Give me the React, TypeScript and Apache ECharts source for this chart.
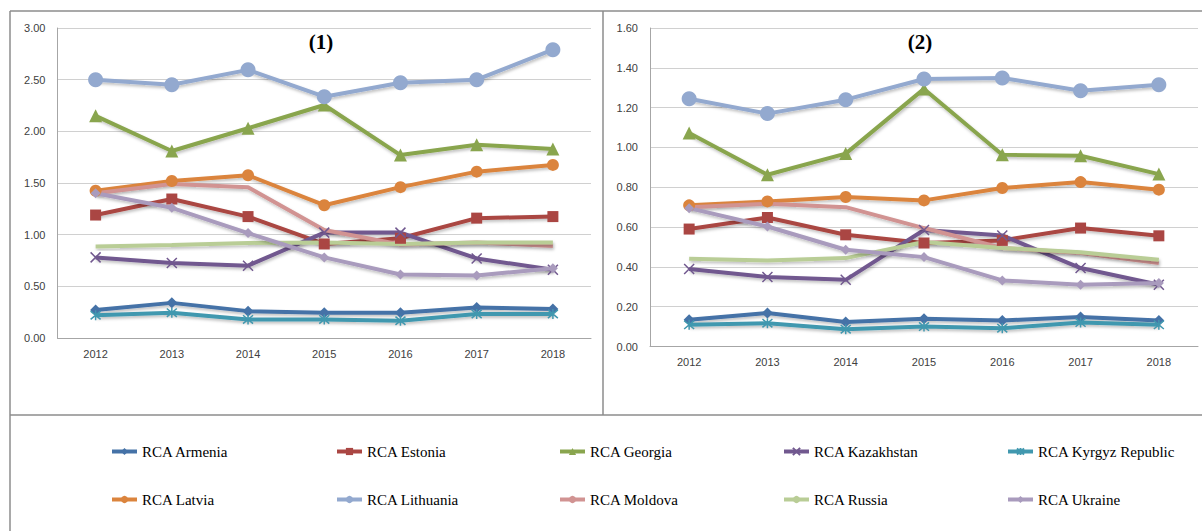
import React, { useEffect, useRef } from "react";
import * as echarts from "echarts";

const years = ["2012", "2013", "2014", "2015", "2016", "2017", "2018"];

const countries = [
  "RCA Armenia",
  "RCA Estonia",
  "RCA Georgia",
  "RCA Kazakhstan",
  "RCA Kyrgyz Republic",
  "RCA Latvia",
  "RCA Lithuania",
  "RCA Moldova",
  "RCA Russia",
  "RCA Ukraine",
];

// Panel (1)
const armenia1 = [0.27, 0.34, 0.26, 0.245, 0.245, 0.295, 0.28];
const estonia1 = [1.19, 1.345, 1.175, 0.91, 0.965, 1.16, 1.175];
const georgia1 = [2.15, 1.81, 2.03, 2.255, 1.77, 1.87, 1.83];
const kazakhstan1 = [0.78, 0.725, 0.70, 1.02, 1.02, 0.77, 0.66];
const kyrgyz1 = [0.22, 0.245, 0.18, 0.18, 0.167, 0.232, 0.232];
const latvia1 = [1.425, 1.52, 1.575, 1.285, 1.46, 1.61, 1.675];
const lithuania1 = [2.5, 2.45, 2.595, 2.335, 2.47, 2.5, 2.79];
const moldova1 = [1.4, 1.49, 1.46, 1.045, 0.905, 0.925, 0.89];
const russia1 = [0.885, 0.9, 0.92, 0.925, 0.91, 0.925, 0.925];
const ukraine1 = [1.4, 1.26, 1.015, 0.78, 0.615, 0.605, 0.675];

// Panel (2)
const armenia2 = [0.134, 0.168, 0.123, 0.139, 0.131, 0.148, 0.131];
const estonia2 = [0.59, 0.648, 0.561, 0.52, 0.533, 0.595, 0.556];
const georgia2 = [1.073, 0.863, 0.969, 1.294, 0.963, 0.958, 0.866];
const kazakhstan2 = [0.389, 0.349, 0.335, 0.585, 0.558, 0.394, 0.31];
const kyrgyz2 = [0.109, 0.117, 0.087, 0.1, 0.092, 0.12, 0.109];
const latvia2 = [0.709, 0.729, 0.751, 0.734, 0.796, 0.826, 0.788];
const lithuania2 = [1.245, 1.17, 1.24, 1.344, 1.349, 1.285, 1.315];
const moldova2 = [0.7, 0.717, 0.7, 0.595, 0.495, 0.47, 0.419];
const russia2 = [0.441, 0.432, 0.444, 0.525, 0.495, 0.473, 0.436];
const ukraine2 = [0.695, 0.603, 0.486, 0.449, 0.332, 0.31, 0.319];

const panel1 = [armenia1, estonia1, georgia1, kazakhstan1, kyrgyz1, latvia1, lithuania1, moldova1, russia1, ukraine1];
const panel2 = [armenia2, estonia2, georgia2, kazakhstan2, kyrgyz2, latvia2, lithuania2, moldova2, russia2, ukraine2];

const colors = [
  "#4572A7",
  "#AA4643",
  "#89A54E",
  "#71588F",
  "#4198AF",
  "#DB843D",
  "#93A9CF",
  "#D19392",
  "#B9CD96",
  "#A99BBD",
];

const crossPath = "path://M0,0 L10,10 M10,0 L0,10";
const asteriskPath = "path://M0,0 L10,10 M10,0 L0,10 M5,-1 L5,11";

const symbols: [string, number][] = [
  ["diamond", 11],
  ["rect", 11],
  ["triangle", 13],
  [crossPath, 10],
  [asteriskPath, 10],
  ["circle", 12],
  ["circle", 15],
  ["none", 0],
  ["none", 0],
  ["diamond", 10],
];

const axisFont = { fontFamily: "'Liberation Sans', Arial, sans-serif", fontSize: 11, color: "#404040" };
const serif = "'Liberation Serif', 'Times New Roman', serif";

function makeSeries(panel: number[][], idx: number) {
  return panel.map((data, i) => {
    const [sym, size] = symbols[i];
    const isPath = sym.startsWith("path://");
    return {
      name: countries[i],
      type: "line",
      xAxisIndex: idx,
      yAxisIndex: idx,
      data,
      symbol: sym,
      symbolSize: size,
      showSymbol: sym !== "none",
      lineStyle: {
        color: colors[i],
        width: 4,
        shadowColor: "rgba(0,0,0,0.25)",
        shadowBlur: 3,
        shadowOffsetX: 1,
        shadowOffsetY: 2,
      },
      itemStyle: {
        color: colors[i],
        borderColor: colors[i],
        borderWidth: isPath ? 1.5 : 0,
      },
      emphasis: { disabled: true },
    };
  });
}

const legendCols = [110, 335, 558, 782, 1006];
const legendRows = [444, 492];

export default function App() {
  const ref = useRef<HTMLDivElement>(null);

  useEffect(() => {
    if (!ref.current) return;
    const chart = echarts.init(ref.current, undefined, { renderer: "svg" });

    const legends = countries.map((name, i) => ({
      data: [name],
      left: legendCols[i % 5],
      top: legendRows[Math.floor(i / 5)],
      padding: 0,
      itemWidth: 25,
      itemHeight: 9,
      itemGap: 5,
      selectedMode: false,
      lineStyle: { width: 4, shadowBlur: 0, shadowOffsetX: 0, shadowOffsetY: 0 },
      textStyle: { fontFamily: serif, fontSize: 15, color: "#000" },
    }));

    const frameColor = "#8c8c8c";

    chart.setOption({
      animation: false,
      backgroundColor: "#fff",
      color: colors,
      legend: legends,
      grid: [
        { left: 57.5, right: 611, top: 28, height: 310, containLabel: false },
        { left: 650, right: 4, top: 28, height: 318.5, containLabel: false },
      ],
      xAxis: [0, 1].map((g) => ({
        type: "category",
        gridIndex: g,
        data: years,
        boundaryGap: true,
        axisLine: { lineStyle: { color: "#a6a6a6", width: 1 } },
        axisTick: { show: false },
        axisLabel: { ...axisFont, margin: 10 },
      })),
      yAxis: [
        { max: 3, interval: 0.5 },
        { max: 1.6, interval: 0.2 },
      ].map((a, g) => ({
        type: "value",
        gridIndex: g,
        min: 0,
        max: a.max,
        interval: a.interval,
        axisLine: { show: true, lineStyle: { color: "#a6a6a6", width: 1 } },
        axisTick: { show: false },
        splitLine: { lineStyle: { color: "#d0d0d0", width: 1 } },
        axisLabel: { ...axisFont, margin: 12, formatter: (v: number) => v.toFixed(2) },
      })),
      series: [...makeSeries(panel1, 0), ...makeSeries(panel2, 1)],
      graphic: [
        { type: "line", shape: { x1: 10, y1: 11, x2: 1202, y2: 11 }, style: { stroke: frameColor, lineWidth: 1.5 } },
        { type: "line", shape: { x1: 10, y1: 11, x2: 10, y2: 531 }, style: { stroke: frameColor, lineWidth: 1.5 } },
        { type: "line", shape: { x1: 603, y1: 11, x2: 603, y2: 415 }, style: { stroke: frameColor, lineWidth: 1.5 } },
        { type: "line", shape: { x1: 10, y1: 415, x2: 1202, y2: 415 }, style: { stroke: frameColor, lineWidth: 1.5 } },
        {
          type: "text",
          x: 321,
          y: 42,
          style: {
            text: "(1)",
            font: "bold 21px " + serif,
            fill: "#000",
            textAlign: "center",
            textVerticalAlign: "middle",
          },
        },
        {
          type: "text",
          x: 920,
          y: 42,
          style: {
            text: "(2)",
            font: "bold 21px " + serif,
            fill: "#000",
            textAlign: "center",
            textVerticalAlign: "middle",
          },
        },
      ],
    });

    return () => chart.dispose();
  }, []);

  return (
    <div
      ref={ref}
      style={{ position: "fixed", left: 0, top: 0, width: 1202, height: 531, background: "#fff" }}
    />
  );
}
